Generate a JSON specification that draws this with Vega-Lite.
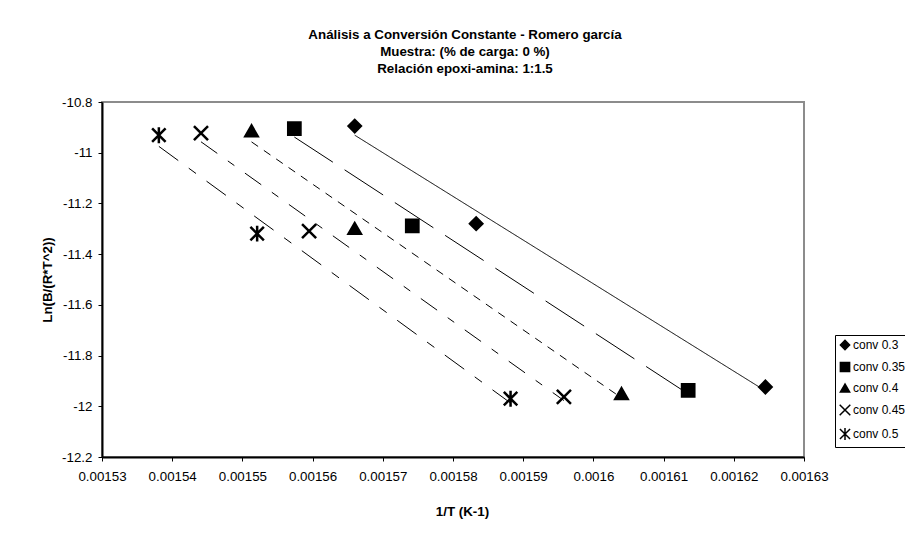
{
  "$schema": "https://vega.github.io/schema/vega-lite/v6.json",
  "autosize": {"type": "none"},
  "width": 702,
  "height": 355,
  "padding": {"left": 102, "top": 102, "right": 101, "bottom": 79},
  "background": "white",
  "config": {
    "font": "Liberation Sans",
    "locale": {"number": {"decimal": ".", "thousands": ",", "grouping": [3], "currency": ["$", ""], "minus": "-"}},
    "view": {"stroke": "#8c8c8c", "strokeWidth": 2},
    "axis": {
      "grid": false,
      "domainColor": "black",
      "domainWidth": 2,
      "tickColor": "black",
      "tickSize": 4,
      "tickWidth": 1,
      "labelOverlap": false,
      "labelFlush": false,
      "labelFont": "Liberation Sans",
      "labelFontSize": 13.33,
      "labelColor": "black",
      "titleFont": "Liberation Sans",
      "titleFontSize": 13.33,
      "titleFontWeight": "bold",
      "titleColor": "black"
    }
  },
  "title": {
    "text": "Análisis a Conversión Constante - Romero garcía",
    "subtitle": ["Muestra: (% de carga: 0 %)", "Relación epoxi-amina: 1:1.5"],
    "anchor": "middle",
    "dx": 12,
    "offset": 20,
    "font": "Liberation Sans",
    "fontSize": 13.33,
    "fontWeight": "bold",
    "color": "black",
    "subtitleFont": "Liberation Sans",
    "subtitleFontSize": 13.33,
    "subtitleFontWeight": "bold",
    "subtitleColor": "black",
    "subtitleLineHeight": 16.7,
    "subtitlePadding": 3.4
  },
  "data": {
    "values": [
      {"series": "conv 0.3", "x": 0.001566, "y": -10.895},
      {"series": "conv 0.3", "x": 0.0015833, "y": -11.28},
      {"series": "conv 0.3", "x": 0.0016245, "y": -11.924},
      {"series": "conv 0.35", "x": 0.0015574, "y": -10.905},
      {"series": "conv 0.35", "x": 0.0015742, "y": -11.289},
      {"series": "conv 0.35", "x": 0.0016135, "y": -11.937},
      {"series": "conv 0.4", "x": 0.0015513, "y": -10.914},
      {"series": "conv 0.4", "x": 0.001566, "y": -11.299},
      {"series": "conv 0.4", "x": 0.001604, "y": -11.95},
      {"series": "conv 0.45", "x": 0.0015441, "y": -10.923},
      {"series": "conv 0.45", "x": 0.0015595, "y": -11.309},
      {"series": "conv 0.45", "x": 0.0015958, "y": -11.963},
      {"series": "conv 0.5", "x": 0.0015381, "y": -10.931},
      {"series": "conv 0.5", "x": 0.0015521, "y": -11.319},
      {"series": "conv 0.5", "x": 0.0015882, "y": -11.97}
    ]
  },
  "encoding": {
    "x": {
      "field": "x",
      "type": "quantitative",
      "scale": {"domain": [0.00153, 0.00163], "nice": false, "zero": false},
      "axis": {
        "values": [0.00153, 0.00154, 0.00155, 0.00156, 0.00157, 0.00158, 0.00159, 0.0016, 0.00161, 0.00162, 0.00163],
        "format": "~g",
        "labelPadding": 8,
        "title": "1/T (K-1)",
        "titlePadding": 22,
        "titleX": 360
      }
    },
    "y": {
      "field": "y",
      "type": "quantitative",
      "scale": {"domain": [-12.2, -10.8], "nice": false, "zero": false},
      "axis": {
        "values": [-12.2, -12, -11.8, -11.6, -11.4, -11.2, -11, -10.8],
        "format": "~g",
        "labelPadding": 6,
        "title": "Ln(B/(R*T^2))",
        "titlePadding": 7
      }
    }
  },
  "resolve": {"legend": {"strokeDash": "independent", "shape": "independent"}},
  "layer": [
    {
      "transform": [{"regression": "y", "on": "x", "groupby": ["series"]}],
      "mark": {"type": "line", "color": "black", "strokeWidth": 1},
      "encoding": {
        "strokeDash": {
          "field": "series",
          "type": "nominal",
          "scale": {
            "domain": ["conv 0.3", "conv 0.35", "conv 0.4", "conv 0.45", "conv 0.5"],
            "range": [[1, 0], [46, 14], [8, 7], [20, 13, 8, 13], [24, 13, 9, 13]]
          },
          "legend": null
        }
      }
    },
    {
      "mark": {"type": "point", "filled": true, "fill": "black", "stroke": "black", "strokeWidth": 2.5, "size": 150, "opacity": 1},
      "encoding": {
        "shape": {
          "field": "series",
          "type": "nominal",
          "scale": {
            "domain": ["conv 0.3", "conv 0.35", "conv 0.4", "conv 0.45", "conv 0.5"],
            "range": ["diamond", "square", "triangle-up", "M-1.15,-1.15L1.15,1.15M1.15,-1.15L-1.15,1.15", "M-1.1,-1.1L1.1,1.1M1.1,-1.1L-1.1,1.1M0,-1.3L0,1.3"]
          },
          "legend": {
            "title": null,
            "orient": "none",
            "legendX": 733,
            "legendY": 233,
            "strokeColor": "black",
            "fillColor": "white",
            "padding": 4,
            "labelFont": "Liberation Sans",
            "labelFontSize": 12,
            "labelColor": "black",
            "labelOffset": 2,
            "symbolSize": 85,
            "rowPadding": 6,
            "encode": {
              "symbols": {
                "fill": "black",
                "stroke": "black",
                "strokeWidth": 2
              }
            }
          }
        }
      }
    }
  ]
}
